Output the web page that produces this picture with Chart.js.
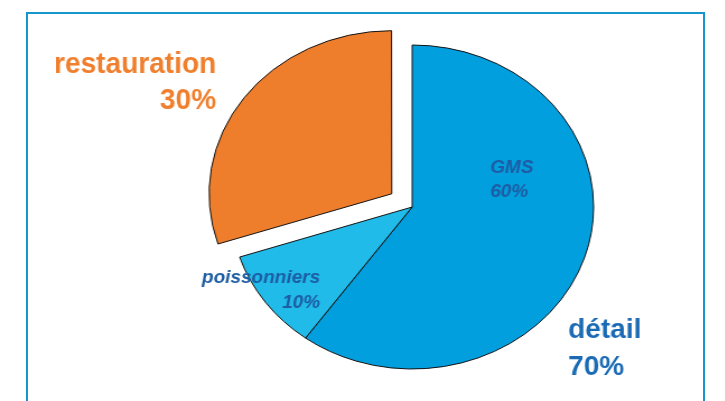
<!DOCTYPE html>
<html>
<head>
<meta charset="utf-8">
<script src="https://cdn.jsdelivr.net/npm/chart.js@4"></script>
<style>
  html, body { margin: 0; padding: 0; background: #fff; overflow: hidden; }
  #page { position: relative; width: 725px; height: 401px; }
  #frame {
    position: absolute; left: 26px; top: 12px; width: 679px; height: 420px;
    border: 2px solid #1796cb; box-sizing: border-box;
  }
  #wrap {
    position: absolute; left: 0; top: 0; width: 647px; height: 401px;
    transform: scaleX(1.12); transform-origin: 0 0;
  }
</style>
</head>
<body>
<div id="page">
  <div id="frame"></div>
  <div id="wrap"><canvas id="pie" width="647" height="401" style="width:647px;height:401px"></canvas></div>
</div>
<script>
// pie is drawn a bit wider than tall, like the original
const SX = 1.12;

const categories = ["GMS", "poissonniers", "restauration"];
const shares = [60, 10, 30];
const sliceColors = ["#029fdf", "#20bbe9", "#ef7e2c"];
const sliceOffsets = [0, 0, 90];

// text around the pie: [line1, line2, dx, dy, align, size, italic, color, gap, squeeze]
const textLabels = [
  ["restauration", "30%", -196, -134, "right", 30, false, "#ef7f2d", 36, 0.935],
  ["poissonniers", "10%", -92, 76, "right", 19, true, "#1d5da3", 25, 1],
  ["GMS", "60%", 78, -34, "left", 19, true, "#1d5da3", 24, 1],
  ["détail", "70%", 156, 131, "left", 28, false, "#1a6ab4", 37, 1],
];

const labelPlugin = {
  id: "labels",
  afterDraw(chart) {
    const ctx = chart.ctx;
    const arc = chart.getDatasetMeta(0).data[0];
    const cx = arc.x * SX;
    const cy = arc.y;
    textLabels.forEach(function (l) {
      const size = l[5];
      const k = l[9];
      ctx.save();
      ctx.scale(k / SX, 1);
      ctx.font = (l[6] ? "italic " : "") + "bold " + size + "px 'Liberation Sans', Arial, sans-serif";
      ctx.fillStyle = l[7];
      ctx.textAlign = l[4];
      ctx.textBaseline = "alphabetic";
      const x = (cx + l[2]) / k;
      ctx.fillText(l[0], x, cy + l[3]);
      ctx.fillText(l[1], x, cy + l[3] + l[8]);
      ctx.restore();
    });
  }
};

const ctx = document.getElementById("pie").getContext("2d");
new Chart(ctx, {
  type: "pie",
  data: {
    labels: categories,
    datasets: [{
      data: shares,
      backgroundColor: sliceColors,
      borderColor: "#111",
      borderWidth: 1,
      offset: sliceOffsets,
    }],
  },
  options: {
    responsive: false,
    animation: false,
    radius: 162,
    layout: { padding: { left: 89, top: 13, right: 0, bottom: 0 } },
    plugins: {
      legend: { display: false },
      tooltip: { enabled: false },
    },
  },
  plugins: [labelPlugin],
});
</script>
</body>
</html>
